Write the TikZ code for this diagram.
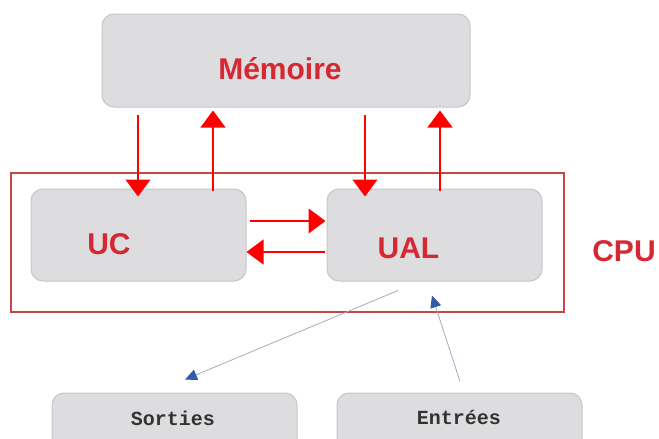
\documentclass[tikz,border=0pt]{standalone}
\usepackage{fontspec}
\setmainfont{Liberation Sans}
\newfontfamily\monofont{Liberation Mono}
\usetikzlibrary{arrows.meta}
\usetikzlibrary{calc}
\definecolor{rougetxt}{RGB}{214,40,50}
\definecolor{grisboite}{RGB}{221,221,223}
\definecolor{bordboite}{RGB}{196,198,204}
\definecolor{rougecadre}{RGB}{200,70,70}
\definecolor{bleupointe}{RGB}{52,92,165}
\definecolor{grisfleche}{RGB}{165,170,192}

\begin{document}
\begin{tikzpicture}[x=1pt,y=-1pt]
\tikzstyle{boite}=[rectangle,draw=bordboite,fill=grisboite,rounded corners=12pt,line width=1pt,inner sep=0pt,minimum height=92pt]
\tikzstyle{titre}=[text=rougetxt,font=\fontsize{30}{36}\selectfont\bfseries,inner sep=0pt,anchor=base]
\tikzstyle{es}=[text=black!80,font=\monofont\fontsize{20}{24}\selectfont\bfseries,inner sep=0pt,anchor=base]
\tikzstyle{fleche}=[-{Triangle[length=17pt,width=25pt]},red,line width=1.2pt]
\tikzstyle{flechebleue}=[-{Triangle[length=12pt,width=11pt,color=bleupointe]},grisfleche,line width=0.8pt]

\useasboundingbox (0,0) rectangle (659,439);
\clip (0,0) rectangle (659,439);

% boites
\node[boite,minimum width=368pt,minimum height=93pt] (mem) at (286,60.5) {};
\node[rectangle,draw=rougecadre,line width=1.3pt,minimum width=553pt,minimum height=139pt] (cpucadre) at (287.5,242.5) {};
\node[boite,minimum width=215pt] (uc) at (138.5,235) {};
\node[boite,minimum width=215pt] (ual) at (434.5,235) {};
\node[boite,minimum width=245pt] (sorties) at (174.5,439) {};
\node[boite,minimum width=245pt] (entrees) at (459.5,439) {};

% textes
\node[titre] (memtxt) at (280,79) {Mémoire};
\node[titre] (uctxt) at (109,254) {UC};
\node[titre] (ualtxt) at (408.5,258) {UAL};
\node[titre] (cputxt) at (624,261) {CPU};
\node[es] (sortiestxt) at (173,425) {Sorties};
\node[es] (entreestxt) at (459,424) {Entrées};

% fleches rouges
\coordinate (v1) at (138,0);
\coordinate (v2) at (213,0);
\coordinate (v3) at (365,0);
\coordinate (v4) at (440,0);
\coordinate (h1) at (0,221);
\coordinate (h2) at (0,252);
\draw[fleche,shorten <=7pt,shorten >=-8pt] (mem.south -| v1) -- (uc.north -| v1);
\draw[fleche,shorten <=-2pt,shorten >=3pt] (uc.north -| v2) -- (mem.south -| v2);
\draw[fleche,shorten <=7pt,shorten >=-8pt] (mem.south -| v3) -- (ual.north -| v3);
\draw[fleche,shorten <=-2pt,shorten >=3pt] (ual.north -| v4) -- (mem.south -| v4);
\draw[fleche,shorten <=3pt,shorten >=1pt] (uc.east |- h1) -- (ual.west |- h1);
\draw[fleche,shorten <=2pt] (ual.west |- h2) -- (uc.east |- h2);

% fleches bleues
\draw[flechebleue] ($(ual.south)+(-36.5,9)$) -- ($(sorties.north)+(10.5,-13)$);
\draw[flechebleue] ($(entrees.north)+(0.5,-11)$) -- ($(ual.south)+(-2.5,14)$);

\end{tikzpicture}
\end{document}
